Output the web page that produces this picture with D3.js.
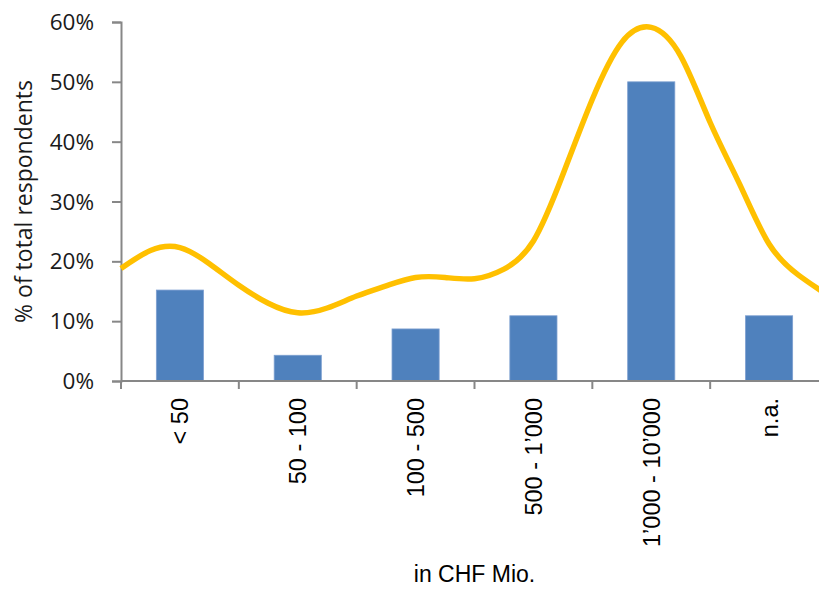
<!DOCTYPE html>
<html>
<head>
<meta charset="utf-8">
<script src="https://cdn.jsdelivr.net/npm/d3@7"></script>
<style>
  html, body { margin: 0; padding: 0; background: #fff; }
  svg { display: block; }
</style>
</head>
<body>
<svg id="chart" width="819" height="589"></svg>
<script>
// Revenue classes (in CHF Mio.) and share of respondents
const categories = ["< 50", "50 - 100", "100 - 500", "500 - 1’000", "1’000 - 10’000", "n.a."];
const shares = [0.152, 0.043, 0.087, 0.109, 0.500, 0.109];

// Smoothed distribution curve, sampled every quarter category width
const curvePos = [0, 0.25, 0.5, 0.75, 1, 1.25, 1.5, 1.75, 2, 2.25, 2.5, 2.75, 3,
                  3.25, 3.5, 3.75, 4, 4.25, 4.5, 4.75, 5, 5.25, 5.5, 5.75, 6];
const curveVals = [0.188, 0.218, 0.223, 0.196, 0.160, 0.130, 0.114, 0.122, 0.142, 0.159, 0.173, 0.173, 0.171,
                   0.187, 0.234, 0.345, 0.471, 0.566, 0.591, 0.543, 0.432, 0.329, 0.229, 0.177, 0.143];

const yTicks = [0, 0.1, 0.2, 0.3, 0.4, 0.5, 0.6];

const svg = d3.select("#chart");
const plotLeft = 121, plotRight = 828, plotTop = 22, plotBottom = 381;

const x = d3.scaleBand().domain(categories).range([plotLeft, plotRight]).paddingInner(0.6).paddingOuter(0.3);
const xu = d3.scaleLinear().domain([0, categories.length]).range([plotLeft, plotRight]);
const y = d3.scaleLinear().domain([0, 0.6]).range([plotBottom, plotTop]);

const axisColor = "#878787";

// Bars
svg.append("g").selectAll("rect").data(categories).join("rect")
  .attr("x", d => x(d))
  .attr("y", (d, i) => y(shares[i]))
  .attr("width", x.bandwidth())
  .attr("height", (d, i) => y(0) - y(shares[i]))
  .attr("fill", "#4F81BD")
  .attr("stroke", "#7d9fd0")
  .attr("stroke-width", 0.8);

// Y axis
const yAxis = svg.append("g").attr("transform", `translate(${plotLeft},0)`)
  .call(d3.axisLeft(y).tickValues(yTicks).tickSize(9).tickPadding(18).tickFormat(d3.format(".0%")));
yAxis.select(".domain").attr("stroke", axisColor).attr("stroke-width", 2);
yAxis.selectAll(".tick line").attr("stroke", axisColor).attr("stroke-width", 2);
yAxis.selectAll(".tick text")
  .attr("font-family", "'Open Sans', sans-serif").attr("font-size", 22.5).attr("fill", "#1a1a1a")
  .attr("dy", "0.34em");

// X axis
const xTickPos = d3.range(categories.length + 1).map(i => xu(i));
const xAxisG = svg.append("g");
xAxisG.append("line").attr("x1", plotLeft).attr("x2", plotRight).attr("y1", plotBottom).attr("y2", plotBottom)
  .attr("stroke", axisColor).attr("stroke-width", 2);
xAxisG.selectAll("line.tk").data(xTickPos).join("line").attr("class", "tk")
  .attr("x1", d => d).attr("x2", d => d).attr("y1", plotBottom).attr("y2", plotBottom + 8)
  .attr("stroke", axisColor).attr("stroke-width", 2);
xAxisG.selectAll("text").data(categories).join("text")
  .attr("transform", d => `translate(${x(d) + x.bandwidth() / 2 + 8.5},398) rotate(-90)`)
  .attr("text-anchor", "end")
  .attr("font-family", "'Liberation Sans', Arial, sans-serif").attr("font-size", 23.5).attr("fill", "#000")
  .text(d => d);

// Distribution curve
const line = d3.line().x((d, i) => xu(curvePos[i])).y(d => y(d)).curve(d3.curveNatural);
svg.append("path").datum(curveVals)
  .attr("d", line)
  .attr("fill", "none")
  .attr("stroke", "#FFC000")
  .attr("stroke-width", 5.5)
  .attr("stroke-linejoin", "round");

// Axis titles
svg.append("text")
  .attr("transform", `translate(32,${(plotTop + plotBottom) / 2}) rotate(-90)`)
  .attr("text-anchor", "middle")
  .attr("font-family", "'Open Sans', sans-serif").attr("font-size", 23).attr("fill", "#1a1a1a")
  .text("% of total respondents");

svg.append("text")
  .attr("x", (plotLeft + plotRight) / 2).attr("y", 582)
  .attr("text-anchor", "middle")
  .attr("font-family", "'Liberation Sans', Arial, sans-serif").attr("font-size", 23).attr("fill", "#000")
  .text("in CHF Mio.");
</script>
</body>
</html>
